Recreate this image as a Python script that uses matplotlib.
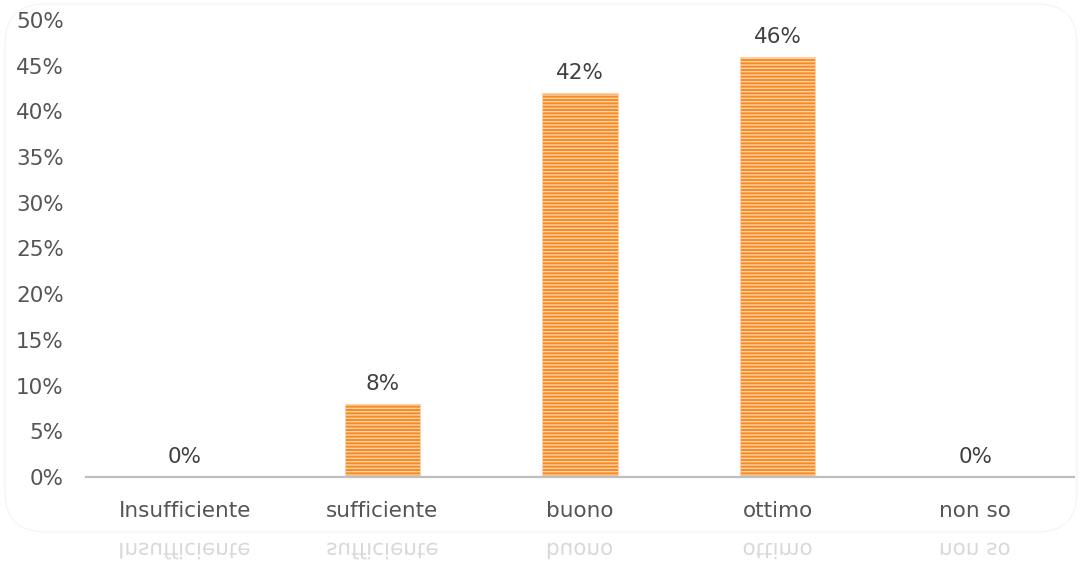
import matplotlib
matplotlib.use("Agg")
import matplotlib.pyplot as plt
from matplotlib.font_manager import FontProperties
from matplotlib.patches import FancyBboxPatch, PathPatch
from matplotlib.textpath import TextPath
from matplotlib.ticker import PercentFormatter
from matplotlib.transforms import Affine2D, IdentityTransform

categories = ["Insufficiente", "sufficiente", "buono", "ottimo", "non so"]
shares = [0.00, 0.08, 0.42, 0.46, 0.00]
y_ticks = [0.00, 0.05, 0.10, 0.15, 0.20, 0.25, 0.30, 0.35, 0.40, 0.45, 0.50]

W, H, DPI = 1082, 576, 100
FONT = "DejaVu Sans"
FS = 15.5
TICK_GREY = "#555555"
LABEL_GREY = "#404040"

plt.rcParams["font.family"] = FONT
plt.rcParams["hatch.linewidth"] = 1.0

fig = plt.figure(figsize=(W / DPI, H / DPI), dpi=DPI)
fig.patch.set_facecolor("white")

# axes box in pixel terms: x 86..1074, y 20..477 (from top)
ax = fig.add_axes([86 / W, (H - 477) / H, (1074 - 86) / W, (477 - 20) / H])

x = list(range(len(categories)))
ax.bar(x, shares, width=0.38, color="#f68a20", edgecolor="#fdd3aa",
       linewidth=0.6, hatch="-----", zorder=2)

for xi, v in zip(x, shares):
    ax.annotate(f"{v:.0%}", (xi, v), xytext=(0, 7), textcoords="offset points",
                ha="center", va="bottom", fontsize=FS, color=LABEL_GREY)

ax.set_xlim(-0.5, len(categories) - 0.5)
ax.set_ylim(0, 0.5)
ax.set_yticks(y_ticks)
ax.yaxis.set_major_formatter(PercentFormatter(1.0, decimals=0))
ax.set_xticks(x)
ax.set_xticklabels(categories)
ax.tick_params(axis="both", length=0, labelsize=FS, labelcolor=TICK_GREY)
ax.tick_params(axis="y", pad=16)
ax.tick_params(axis="x", pad=17)

for side in ("left", "right", "top"):
    ax.spines[side].set_visible(False)
ax.spines["bottom"].set_color("#bfbfbf")
ax.spines["bottom"].set_linewidth(1.6)
ax.set_facecolor("none")

# faint rounded chart border
fig.patches.append(FancyBboxPatch(
    (5, H - 532), W - 10, 528, boxstyle="round,pad=0,rounding_size=40",
    transform=IdentityTransform(), facecolor="none", edgecolor="#f4f4f4",
    linewidth=0.8, zorder=0))

# mirrored copies of the category labels below the chart
prop = FontProperties(family=FONT, size=FS)
px_size = FS * DPI / 72
for xi, name in zip(x, categories):
    tp = TextPath((0, 0), name, size=px_size, prop=prop)
    ext = tp.get_extents()
    cx = ax.transData.transform((xi, 0))[0]
    tr = (Affine2D().translate(-(ext.x0 + ext.width / 2), 0)
          .scale(1, -1).translate(cx, H - 543))
    fig.patches.append(PathPatch(tr.transform_path(tp),
                                 transform=IdentityTransform(),
                                 facecolor="#cfcfcf", edgecolor="none",
                                 alpha=0.8, zorder=1))

fig.savefig("out.png", dpi=DPI, facecolor="white")
